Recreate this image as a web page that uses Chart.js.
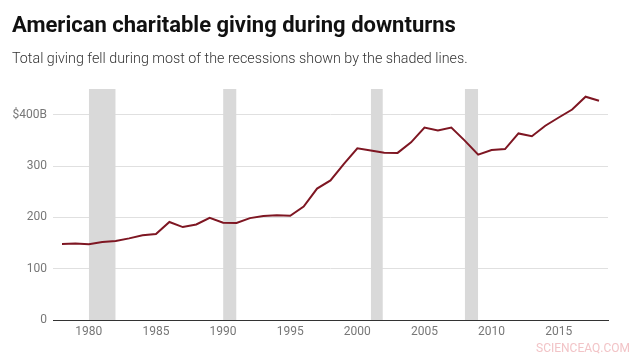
<!DOCTYPE html>
<html>
<head>
<meta charset="utf-8">
<script src="https://cdn.jsdelivr.net/npm/chart.js@4/dist/chart.umd.min.js"></script>
<style>
  html, body { margin: 0; padding: 0; background: #fff; }
  #wrap { position: relative; width: 635px; height: 357px; overflow: hidden; font-family: Roboto, "Open Sans", sans-serif; }
  #title { position: absolute; left: 12px; top: 12px; font-size: 22px; font-weight: 700; color: #111; white-space: nowrap; }
  #subtitle { position: absolute; left: 12px; top: 50px; font-size: 14.3px; font-weight: 300; color: #333; white-space: nowrap; }
  #mark { position: absolute; left: 536px; top: 341px; font-size: 12px; color: #f2c4c7; white-space: nowrap; }
  canvas { position: absolute; left: 0; top: 0; }
</style>
</head>
<body>
<div id="wrap">
  <canvas id="c" width="635" height="357"></canvas>
  <div id="title">American charitable giving during downturns</div>
  <div id="subtitle">Total giving fell during most of the recessions shown by the shaded lines.</div>
  <div id="mark">SCIENCEAQ.COM</div>
</div>
<script>
const years = [1978,1979,1980,1981,1982,1983,1984,1985,1986,1987,1988,1989,1990,1991,1992,1993,1994,1995,1996,1997,1998,1999,2000,2001,2002,2003,2004,2005,2006,2007,2008,2009,2010,2011,2012,2013,2014,2015,2016,2017,2018];
const giving = [148,149,147.5,152,154,159,165,167.5,191,181,186,199,189.5,189,198.5,202.5,204,203,221,256,272,304,334.5,330,326,325.5,346,375,369,375,349.5,322,331,333,363.5,358,378.5,394.5,410,435,427];
const recessionStarts = [1980, 1990, 2001, 2008];
const recessionEnds = [1982, 1991, 2001.9, 2009];
const xTickYears = [1980,1985,1990,1995,2000,2005,2010,2015];
const yTickValues = [0,100,200,300,400];
const yMax = 450;

const datasets = [{
  type: 'line',
  label: 'Total giving',
  data: years.map((y, i) => ({x: y, y: giving[i]})),
  borderColor: '#7e1622',
  borderWidth: 2,
  pointRadius: 0,
  tension: 0,
  fill: false,
  order: 0
}];
recessionStarts.forEach((s, i) => {
  datasets.push({
    type: 'line',
    label: 'Recession ' + (i + 1),
    data: [{x: s, y: yMax}, {x: recessionEnds[i], y: yMax}],
    borderWidth: 0,
    borderColor: 'rgba(0,0,0,0)',
    backgroundColor: '#d9d9d9',
    pointRadius: 0,
    fill: 'origin',
    order: 1
  });
});

new Chart(document.getElementById('c'), {
  type: 'line',
  data: { datasets },
  options: {
    responsive: false,
    animation: false,
    events: [],
    layout: { padding: { top: 89, right: 27, left: 0, bottom: 0 } },
    plugins: { legend: { display: false }, tooltip: { enabled: false }, title: { display: false } },
    scales: {
      x: {
        type: 'linear',
        min: 1977.33,
        max: 2018.67,
        afterBuildTicks: (s) => { s.ticks = xTickYears.map(v => ({value: v})); },
        afterFit: (s) => { s.height = 37; },
        grid: { display: false, drawTicks: false },
        border: { display: true, color: '#333', width: 1 },
        ticks: {
          padding: 5,
          color: '#777',
          font: { family: 'Roboto', size: 12 },
          callback: (v) => String(v),
          maxRotation: 0
        }
      },
      y: {
        type: 'linear',
        min: 0,
        max: yMax,
        afterBuildTicks: (s) => { s.ticks = yTickValues.map(v => ({value: v})); },
        afterFit: (s) => { s.width = 53; },
        grid: { color: '#e0e0e0', lineWidth: 1, drawTicks: false },
        border: { display: false },
        ticks: {
          padding: 6,
          color: '#777',
          font: { family: 'Roboto', size: 12 },
          callback: (v) => v === 400 ? '$400B' : String(v)
        }
      }
    }
  }
});
</script>
</body>
</html>
